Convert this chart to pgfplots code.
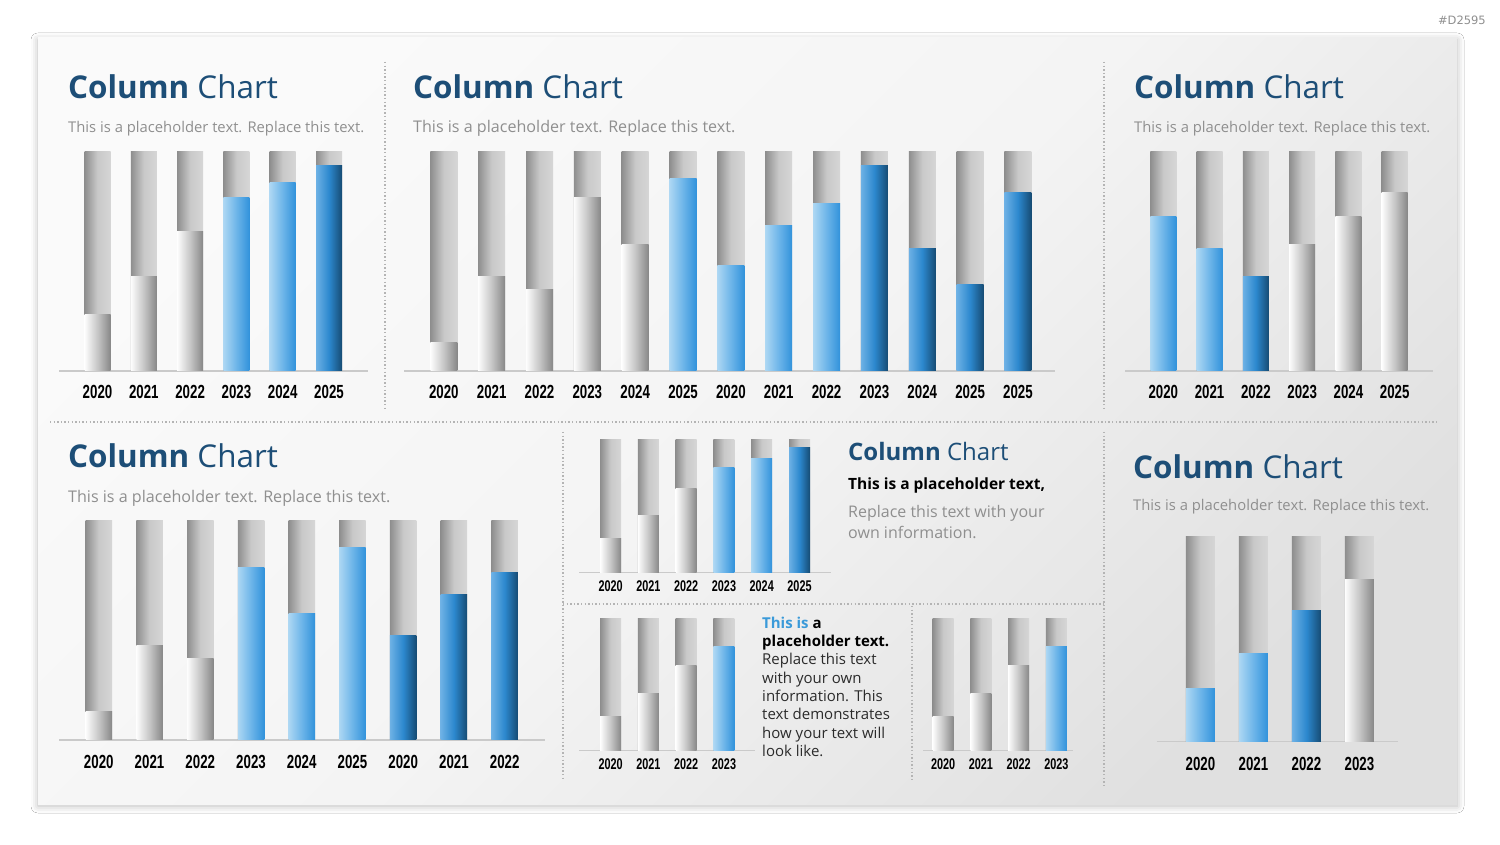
\documentclass[border=0pt]{standalone}
\usepackage{fontspec}
\setmainfont{Open Sans}
\newfontfamily\yearfont[FakeStretch=0.70]{Liberation Sans}
\newfontfamily\tagfont{DejaVu Sans}
\usepackage{pgfplots}
\pgfplotsset{compat=1.18}
\usetikzlibrary{shadows.blur}

\definecolor{titleblue}{HTML}{1D4E77}
\definecolor{subgray}{HTML}{8F8F8F}
\definecolor{bodytext}{HTML}{2B2B2B}
\definecolor{accentblue}{HTML}{3A9AD9}
\definecolor{baseGray}{HTML}{CACACA}
\definecolor{divGray}{HTML}{B4B4B4}
\definecolor{panelL}{HTML}{FAFAFA}
\definecolor{panelM}{HTML}{F4F4F4}
\definecolor{panelR}{HTML}{E0E0E0}
% track (empty part of each column)
\definecolor{bgL}{HTML}{8E8E8E}
\definecolor{bgM}{HTML}{C9C9C9}
\definecolor{bgR}{HTML}{D6D6D6}
% grey filled part
\definecolor{grL}{HTML}{FDFDFD}
\definecolor{grM}{HTML}{C6C6C6}
\definecolor{grR}{HTML}{878787}
% light blue filled part
\definecolor{lbL}{HTML}{ADD7F3}
\definecolor{lbM}{HTML}{6DB5E9}
\definecolor{lbR}{HTML}{3192DB}
% dark blue filled part
\definecolor{dbL}{HTML}{6DB1E5}
\definecolor{dbM}{HTML}{2C88CE}
\definecolor{dbR}{HTML}{164B73}

\pgfplotsset{
  seg/.style={ybar, bar shift=0pt, draw=none},
  bgseg/.style={seg, left color=bgL, right color=bgR, middle color=bgM},
  gseg/.style={seg, left color=grL, right color=grR, middle color=grM},
  lseg/.style={seg, left color=lbL, right color=lbR, middle color=lbM},
  dseg/.style={seg, left color=dbL, right color=dbR, middle color=dbM},
  colchart/.style={
    scale only axis, anchor=south west, clip=false,
    ymin=0, ymax=100, hide y axis,
    axis x line*=bottom,
    x axis line style={draw=baseGray, line width=1.5pt},
    major tick length=0pt,
    xticklabel style={anchor=base, text=black},
  },
  bigyears/.style={xticklabel style={font=\yearfont\bfseries\fontsize{19}{19}\selectfont, yshift=-#1}},
  smallyears/.style={xticklabel style={font=\yearfont\bfseries\fontsize{15.5}{15.5}\selectfont, yshift=-#1}},
}

% one column: track to 100, filled part to the value
\newcommand{\colbar}[3]{%
  \addplot[bgseg] coordinates {(#1,100)};
  \addplot[#3] coordinates {(#1,#2)};
}

\newcommand{\chartTitle}[2]{%
  \node[anchor=base west, text=titleblue, font=\fontsize{31.4}{38}\selectfont, inner sep=0pt] at (#1,#2) {\textbf{Column} Chart};}
% #3 = font size of the subtitle
\newcommand{\chartSub}[3]{%
  \node[anchor=base west, text=subgray, font=\fontsize{#3}{18}\selectfont, inner sep=0pt] at (#1,#2) {This is a placeholder text. Replace this text.};}

\begin{document}
\begin{tikzpicture}[x=1pt, y=1pt]
\useasboundingbox (0,0) rectangle (1500,844);
\fill[white] (0,0) rectangle (1500,844);

% card
\path[blur shadow={shadow xshift=0pt, shadow yshift=-2pt, shadow blur radius=7pt, shadow opacity=28},
      left color=panelL, right color=panelR, middle color=panelM, shading angle=45]
  (38,40) rectangle (1457,806);

\node[anchor=base east, text=subgray, font=\tagfont\fontsize{11.5}{13}\selectfont, inner sep=0pt] at (1486,819) {\#D2595};

% dividers
\begin{scope}[divGray, line width=1.4pt, dash pattern=on 1.4pt off 2.2pt]
  \draw (385,782) -- (385,434);
  \draw (1104,782) -- (1104,434);
  \draw (50,422) -- (1438,422);
  \draw (563,412) -- (563,64);
  \draw (563,240) -- (1104,240);
  \draw (912,238) -- (912,64);
  \draw (1104,412) -- (1104,59);
\end{scope}

% titles
\chartTitle{68}{745.5}   \chartSub{68}{711}{14.8}
\chartTitle{413}{745.5}  \chartSub{413}{711}{16.1}
\chartTitle{1134}{745.5} \chartSub{1134}{711}{14.8}
\chartTitle{68}{376.5}   \chartSub{68}{341}{16.1}
\chartTitle{1133}{365.7} \chartSub{1133}{333}{14.8}

% text beside the small top chart
\node[anchor=base west, text=titleblue, font=\fontsize{24}{28}\selectfont, inner sep=0pt] at (848,383.3) {\textbf{Column} Chart};
\node[anchor=base west, text=black, font=\bfseries\fontsize{15.5}{18}\selectfont, inner sep=0pt] at (848,354) {This is a placeholder text,};
\node[anchor=base west, text=subgray, font=\fontsize{16}{20}\selectfont, inner sep=0pt] at (848,326.7) {Replace this text with your};
\node[anchor=base west, text=subgray, font=\fontsize{16}{20}\selectfont, inner sep=0pt] at (848,305.3) {own information.};

% text beside the small bottom-left chart
\begin{scope}[every node/.style={anchor=base west, text=bodytext, font=\fontsize{15}{18}\selectfont, inner sep=0pt}]
  \node at (762,215.7) {\textbf{\textcolor{accentblue}{This is} \textcolor{black}{a}}};
  \node at (762,197.3) {\textbf{\textcolor{black}{placeholder text.}}};
  \node at (762,179.0) {Replace this text};
  \node at (762,160.7) {with your own};
  \node at (762,142.3) {information. This};
  \node at (762,124.0) {text demonstrates};
  \node at (762,105.7) {how your text will};
  \node at (762,87.3)  {look like.};
\end{scope}

% chart 1: top left
\begin{axis}[colchart, bigyears=28pt, at={(59pt,473pt)}, width=309pt, height=219pt,
  xmin=-0.832, xmax=5.842, bar width=26pt,
  xtick={0,...,5}, xticklabels={2020,2021,2022,2023,2024,2025}]
  \colbar{0}{26}{gseg}
  \colbar{1}{43}{gseg}
  \colbar{2}{63.5}{gseg}
  \colbar{3}{79}{lseg}
  \colbar{4}{86}{lseg}
  \colbar{5}{94}{dseg}
\end{axis}

% chart 2: top middle
\begin{axis}[colchart, bigyears=28pt, at={(404pt,473pt)}, width=651pt, height=219pt,
  xmin=-0.832, xmax=12.774, bar width=27pt,
  xtick={0,...,12}, xticklabels={2020,2021,2022,2023,2024,2025,2020,2021,2022,2023,2024,2025,2025}]
  \colbar{0}{13}{gseg}
  \colbar{1}{43}{gseg}
  \colbar{2}{37}{gseg}
  \colbar{3}{79}{gseg}
  \colbar{4}{57.7}{gseg}
  \colbar{5}{88}{lseg}
  \colbar{6}{48}{lseg}
  \colbar{7}{66.5}{lseg}
  \colbar{8}{76.6}{lseg}
  \colbar{9}{94}{dseg}
  \colbar{10}{56}{dseg}
  \colbar{11}{39.4}{dseg}
  \colbar{12}{81.6}{dseg}
\end{axis}

% chart 3: top right
\begin{axis}[colchart, bigyears=28pt, at={(1125pt,473pt)}, width=308.3pt, height=219pt,
  xmin=-0.828, xmax=5.834, bar width=26pt,
  xtick={0,...,5}, xticklabels={2020,2021,2022,2023,2024,2025}]
  \colbar{0}{70.4}{lseg}
  \colbar{1}{56}{lseg}
  \colbar{2}{43.2}{dseg}
  \colbar{3}{57.6}{gseg}
  \colbar{4}{70.4}{gseg}
  \colbar{5}{81.6}{gseg}
\end{axis}

% chart 4: bottom left
\begin{axis}[colchart, bigyears=29pt, at={(59pt,104pt)}, width=486pt, height=219pt,
  xmin=-0.784, xmax=8.794, bar width=26.5pt,
  xtick={0,...,8}, xticklabels={2020,2021,2022,2023,2024,2025,2020,2021,2022}]
  \colbar{0}{13}{gseg}
  \colbar{1}{43}{gseg}
  \colbar{2}{37}{gseg}
  \colbar{3}{78.7}{lseg}
  \colbar{4}{57.7}{lseg}
  \colbar{5}{88}{lseg}
  \colbar{6}{47.8}{dseg}
  \colbar{7}{66.5}{dseg}
  \colbar{8}{76.3}{dseg}
\end{axis}

% chart 5: small, centre top
\begin{axis}[colchart, smallyears=18.5pt, at={(579pt,271.3pt)}, width=251.7pt, height=132.7pt,
  xmin=-0.839, xmax=5.826, bar width=21pt,
  xtick={0,...,5}, xticklabels={2020,2021,2022,2023,2024,2025}]
  \colbar{0}{26}{gseg}
  \colbar{1}{43}{gseg}
  \colbar{2}{63.6}{gseg}
  \colbar{3}{79}{lseg}
  \colbar{4}{86.4}{lseg}
  \colbar{5}{94}{dseg}
\end{axis}

% chart 6: small, centre bottom left
\begin{axis}[colchart, smallyears=19pt, at={(579pt,93.3pt)}, width=175.6pt, height=132.4pt,
  xmin=-0.839, xmax=3.811, bar width=21pt,
  xtick={0,...,3}, xticklabels={2020,2021,2022,2023}]
  \colbar{0}{26}{gseg}
  \colbar{1}{43}{gseg}
  \colbar{2}{64}{gseg}
  \colbar{3}{79}{lseg}
\end{axis}

% chart 7: small, centre bottom right
\begin{axis}[colchart, smallyears=19pt, at={(923.2pt,93.3pt)}, width=150pt, height=132.4pt,
  xmin=-0.530, xmax=3.446, bar width=21pt,
  xtick={0,...,3}, xticklabels={2020,2021,2022,2023}]
  \colbar{0}{26}{gseg}
  \colbar{1}{43}{gseg}
  \colbar{2}{64}{gseg}
  \colbar{3}{79}{lseg}
\end{axis}

% chart 8: bottom right
\begin{axis}[colchart, bigyears=29.5pt, at={(1156.7pt,102.7pt)}, width=241pt, height=204.7pt,
  xmin=-0.826, xmax=3.721, bar width=29pt,
  xtick={0,...,3}, xticklabels={2020,2021,2022,2023}]
  \colbar{0}{26}{lseg}
  \colbar{1}{43}{lseg}
  \colbar{2}{63.7}{dseg}
  \colbar{3}{79}{gseg}
\end{axis}
\end{tikzpicture}
\end{document}
